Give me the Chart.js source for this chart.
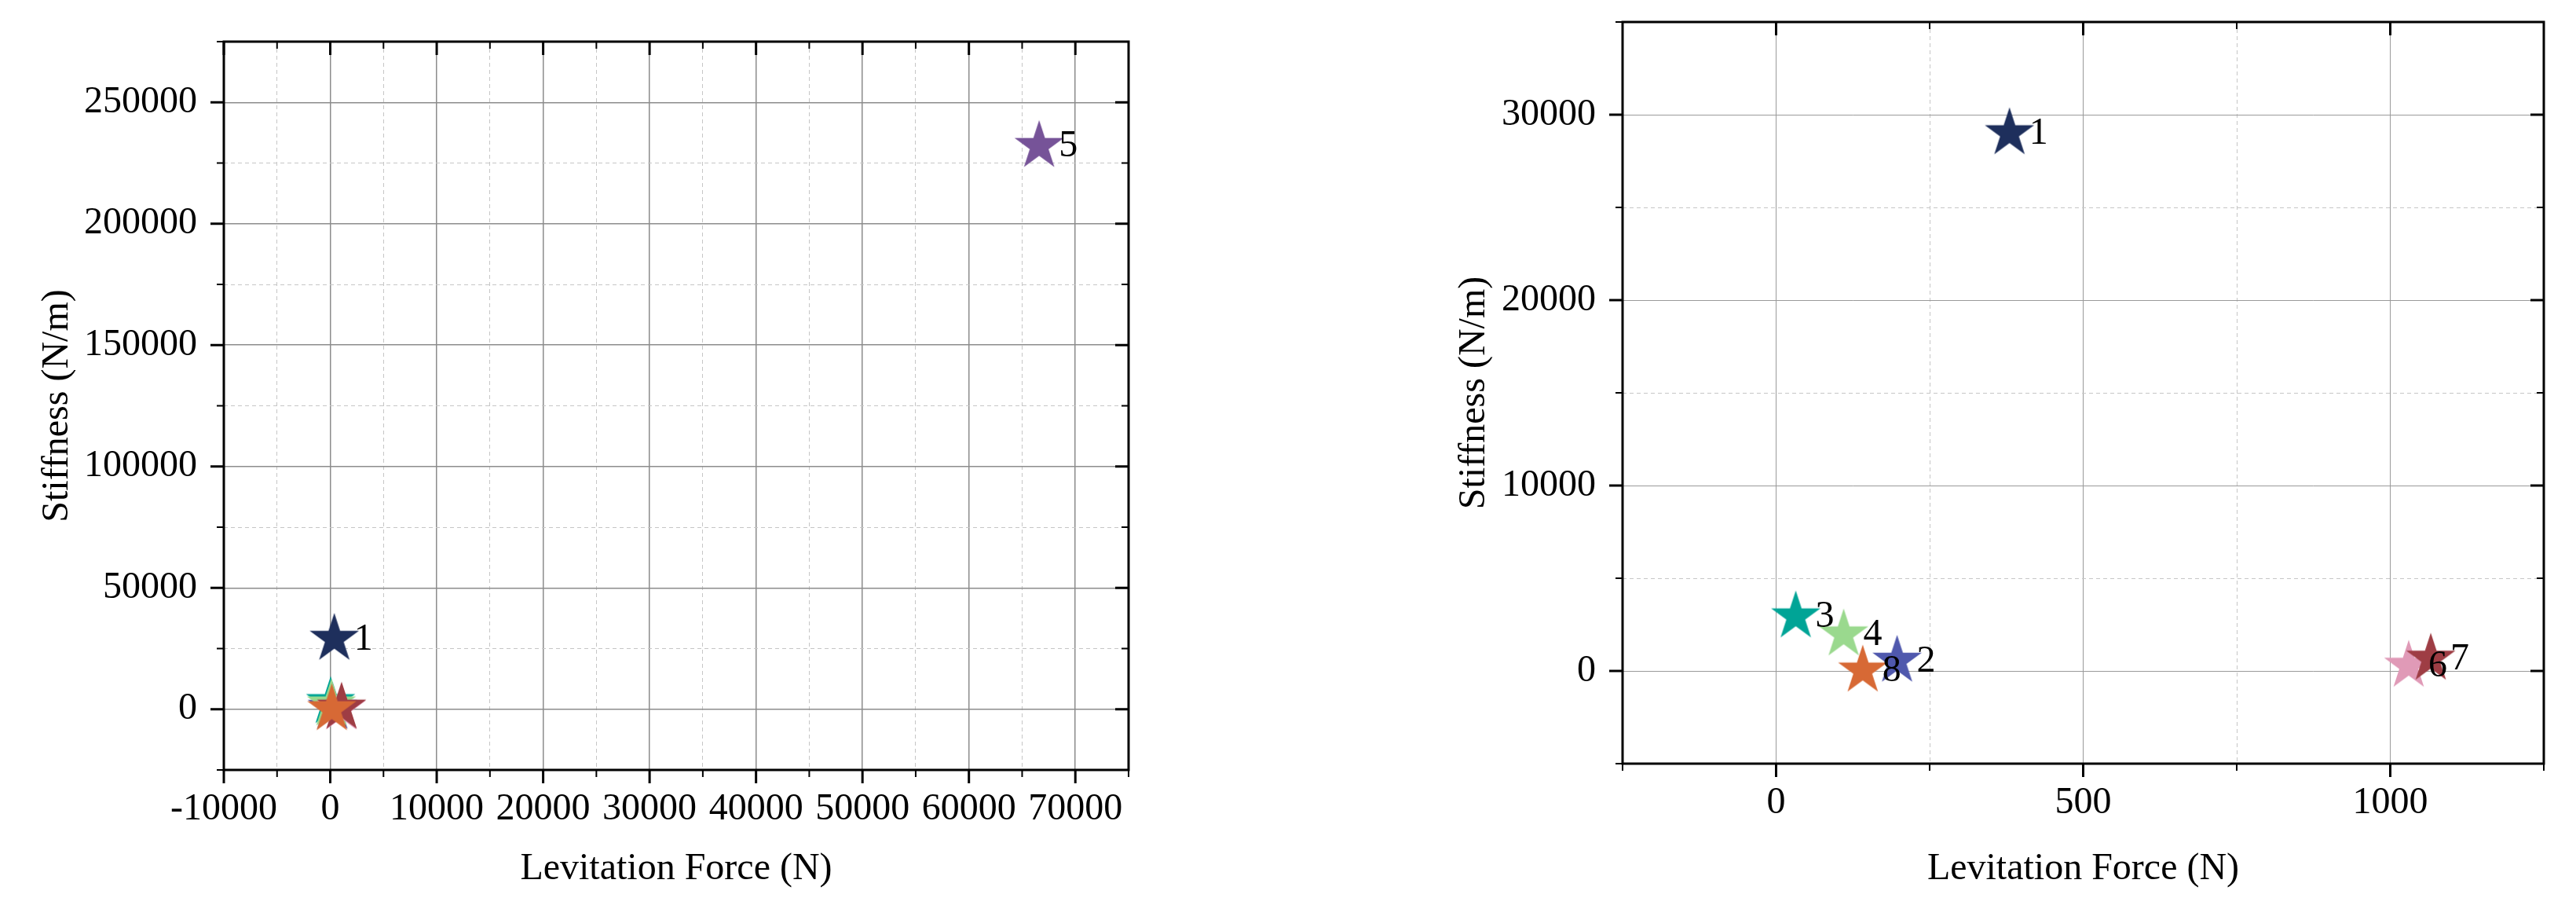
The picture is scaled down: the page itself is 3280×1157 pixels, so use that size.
<!DOCTYPE html>
<html>
<head>
<meta charset="utf-8">
<script src="https://cdn.jsdelivr.net/npm/chart.js@4.4.1/dist/chart.umd.min.js"></script>
<style>
  html, body { margin: 0; padding: 0; background: #fff; overflow: hidden; }
  #wrap { position: relative; width: 3280px; height: 1157px; }
  canvas { position: absolute; top: 0; }
  #full { left: 0; }
  #zoom { left: 1640px; }
</style>
</head>
<body>
<div id="wrap">
  <canvas id="full" width="1640" height="1157"></canvas>
  <canvas id="zoom" width="1640" height="1157"></canvas>
</div>
<script>
// data points (same set on both panels)
const pointNames      = ['1', '2', '3', '4', '5', '6', '7', '8'];
const levitationForce = [380, 197, 32, 110, 66600, 1030, 1066, 141];      // N
const stiffness       = [29000, 550, 2940, 1970, 232000, 280, 660, 20];   // N/m
const pointColors     = ['#1e2f5c', '#4f58ad', '#00a496', '#9ad98e', '#765398', '#e09ab7', '#9e3d44', '#d76935'];

// left panel: full view
const fullXRange    = [-10000, 75000];
const fullYRange    = [-25000, 275000];
const fullXTicks    = [-10000, 0, 10000, 20000, 30000, 40000, 50000, 60000, 70000];
const fullYTicks    = [0, 50000, 100000, 150000, 200000, 250000];
const fullLabelled  = ['1', '5'];

// right panel: zoom near the origin
const zoomXRange    = [-250, 1250];
const zoomYRange    = [-5000, 35000];
const zoomXTicks    = [0, 500, 1000];
const zoomYTicks    = [0, 10000, 20000, 30000];
const zoomLabelled  = ['1', '2', '3', '4', '6', '7', '8'];

const FONT = 'Liberation Serif, Times New Roman, serif';
const STAR_R = 33;

function starImage(color, r) {
  const c = document.createElement('canvas');
  const size = Math.ceil(r * 2 + 4);
  c.width = size; c.height = size;
  const g = c.getContext('2d');
  g.translate(size / 2, size / 2);
  g.beginPath();
  for (let i = 0; i < 10; i++) {
    const rad = i % 2 ? r * 0.382 : r;
    const a = -Math.PI / 2 + i * Math.PI / 5;
    g.lineTo(rad * Math.cos(a), rad * Math.sin(a));
  }
  g.closePath();
  g.fillStyle = color;
  g.fill();
  return c;
}

const isMajor = (list, v) => list.includes(Math.round(v));

// frame + Origin-style ticks: out on left/bottom, in on top/right
const frameTicks = {
  id: 'frameTicks',
  beforeDatasetsDraw(chart, args, opts) {
    const { ctx, chartArea: a, scales: { x, y } } = chart;
    ctx.save();
    ctx.strokeStyle = '#000';
    const seg = (x1, y1, x2, y2, w) => {
      ctx.lineWidth = w;
      ctx.beginPath(); ctx.moveTo(x1, y1); ctx.lineTo(x2, y2); ctx.stroke();
    };
    x.ticks.forEach(t => {
      const px = x.getPixelForValue(t.value);
      const major = isMajor(opts.xMajor, t.value);
      const len = major ? 17 : 9, w = major ? 3 : 2;
      seg(px, a.bottom, px, a.bottom + len, w);
      seg(px, a.top, px, a.top + len, w);
    });
    y.ticks.forEach(t => {
      const py = y.getPixelForValue(t.value);
      const major = isMajor(opts.yMajor, t.value);
      const len = major ? 17 : 9, w = major ? 3 : 2;
      seg(a.left - len, py, a.left, py, w);
      seg(a.right - len, py, a.right, py, w);
    });
    ctx.lineWidth = 3;
    ctx.strokeRect(a.left, a.top, a.right - a.left, a.bottom - a.top);
    ctx.restore();
  }
};

const starLabels = {
  id: 'starLabels',
  afterDatasetsDraw(chart, args, opts) {
    const { ctx } = chart;
    const meta = chart.getDatasetMeta(0);
    ctx.save();
    ctx.font = '48px ' + FONT;
    ctx.fillStyle = '#000';
    ctx.textAlign = 'left';
    ctx.textBaseline = 'middle';
    meta.data.forEach((pt, i) => {
      if (!opts.show.includes(pointNames[i])) return;
      ctx.fillText(pointNames[i], pt.x + 25, pt.y + 1);
    });
    ctx.restore();
  }
};

function axis(range, step, major, title, o) {
  const horizontal = o.horizontal;
  return {
    type: 'linear',
    min: range[0],
    max: range[1],
    ticks: {
      stepSize: step,
      autoSkip: false,
      maxRotation: 0,
      padding: o.labelPad,
      color: '#000',
      font: { family: FONT, size: 48 },
      callback: v => isMajor(major, v) ? String(v) : ''
    },
    grid: {
      drawTicks: false,
      color: c => (c.tick && isMajor(major, c.tick.value)) ? o.majorColor : o.minorColor,
      lineWidth: c => (c.tick && isMajor(major, c.tick.value)) ? o.majorWidth : 1
    },
    border: {
      display: false,
      dash: c => (c.tick && !isMajor(major, c.tick.value)) ? [5, 4] : []
    },
    title: {
      display: true,
      text: title,
      color: '#000',
      font: { family: FONT, size: 48 },
      padding: o.titlePad
    },
    afterFit: s => {
      // fixed axis boxes, no extra label overhang padding
      if (horizontal) s.height = o.size; else s.width = o.size;
      s.paddingTop = 0; s.paddingBottom = 0;
      s.paddingLeft = 0; s.paddingRight = 0;
    }
  };
}

function makeChart(id, cfg) {
  const data = levitationForce.map((f, i) => ({ x: f, y: stiffness[i] }));
  return new Chart(document.getElementById(id), {
    type: 'scatter',
    data: {
      datasets: [{
        data,
        pointStyle: pointColors.map(c => starImage(c, STAR_R)),
        pointRadius: STAR_R,
        backgroundColor: pointColors
      }]
    },
    options: {
      responsive: false,
      animation: false,
      events: [],
      layout: { padding: cfg.padding, autoPadding: false },
      plugins: {
        legend: { display: false },
        tooltip: { enabled: false },
        frameTicks: { xMajor: cfg.xTicks, yMajor: cfg.yTicks },
        starLabels: { show: cfg.labelled }
      },
      scales: {
        x: axis(cfg.xRange, cfg.xStep, cfg.xTicks, 'Levitation Force (N)', {
          horizontal: true, size: cfg.xSize, labelPad: 22,
          titlePad: { top: 0, bottom: 22 },
          majorColor: cfg.majorColor, minorColor: '#c6c6c6', majorWidth: cfg.majorWidth
        }),
        y: axis(cfg.yRange, cfg.yStep, cfg.yTicks, 'Stiffness (N/m)', {
          horizontal: false, size: cfg.ySize, labelPad: 34,
          titlePad: { top: cfg.yTitlePad, bottom: 0 },
          majorColor: cfg.majorColor, minorColor: '#c6c6c6', majorWidth: cfg.majorWidth
        })
      }
    },
    plugins: [frameTicks, starLabels]
  });
}

makeChart('full', {
  xRange: fullXRange, yRange: fullYRange, xStep: 5000, yStep: 25000,
  xTicks: fullXTicks, yTicks: fullYTicks, labelled: fullLabelled,
  padding: { left: 0, top: 53, right: 203, bottom: 0 },
  xSize: 177, ySize: 285, yTitlePad: 45,
  majorColor: '#8c8c8c', majorWidth: 1.5
});

makeChart('zoom', {
  xRange: zoomXRange, yRange: zoomYRange, xStep: 250, yStep: 5000,
  xTicks: zoomXTicks, yTicks: zoomYTicks, labelled: zoomLabelled,
  padding: { left: 0, top: 28, right: 41, bottom: 0 },
  xSize: 185, ySize: 426, yTitlePad: 209,
  majorColor: '#9a9a9a', majorWidth: 1
});
</script>
</body>
</html>
